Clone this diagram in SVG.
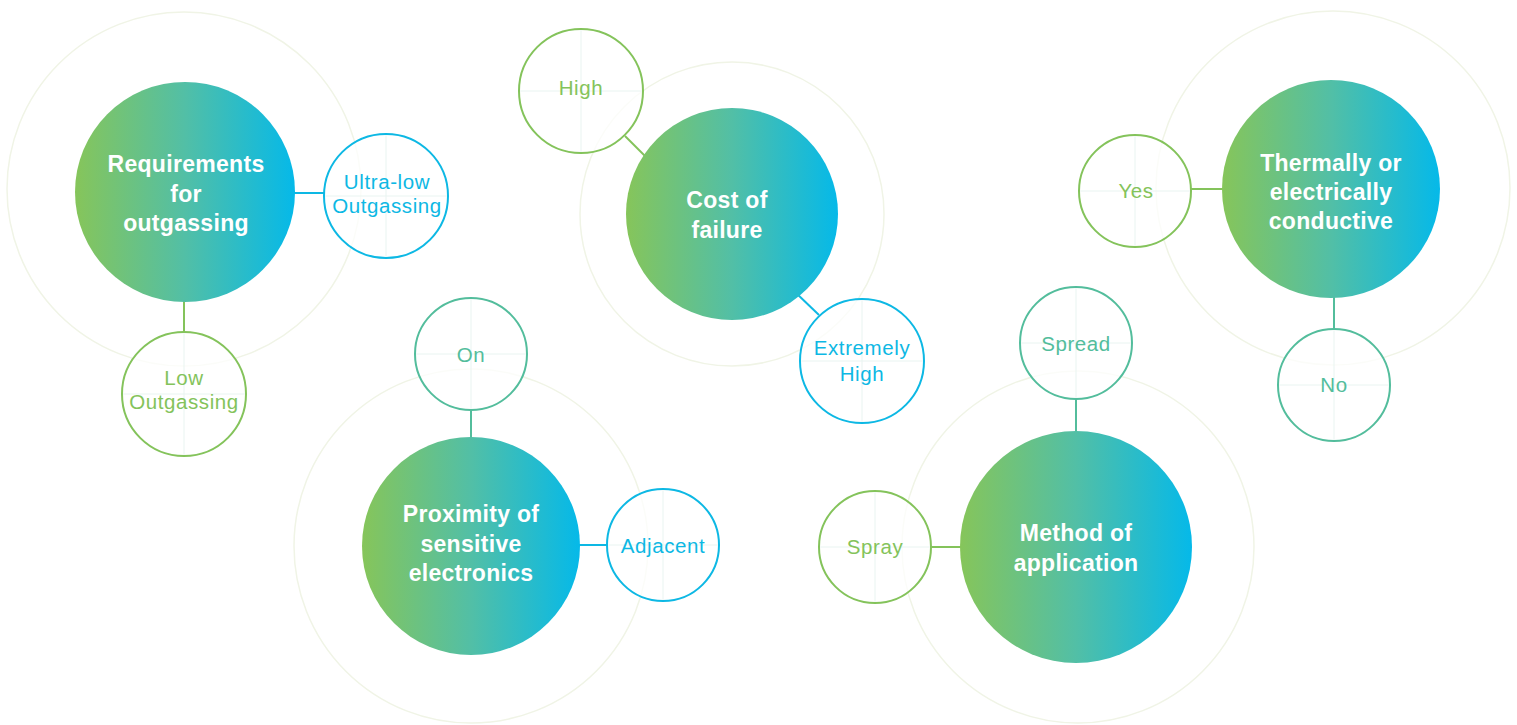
<svg xmlns="http://www.w3.org/2000/svg" width="1517" height="725" viewBox="0 0 1517 725">
<defs>
<linearGradient id="g" x1="0" y1="0" x2="1" y2="0">
<stop offset="0" stop-color="#86c55a"/>
<stop offset="0.5" stop-color="#52bfa6"/>
<stop offset="1" stop-color="#05b9e9"/>
</linearGradient>
<style>
.ring{fill:none;stroke:#f0f4e6;stroke-width:1.5}
.main{fill:url(#g)}
.mt{font-family:"Liberation Sans",Arial,sans-serif;font-weight:bold;font-size:23px;letter-spacing:0.3px;fill:#ffffff;text-anchor:middle}
.st{font-family:"Liberation Sans",Arial,sans-serif;font-size:20.5px;letter-spacing:0.6px;text-anchor:middle}
.opt{fill:#ffffff;fill-opacity:0.75;stroke-width:2}
.xh{stroke:#e9f4f1;stroke-width:1}
.gr{stroke:#84c35b}
.tl{stroke:#53bd9c}
.cy{stroke:#0db8e4}
.tgr{fill:#84c35b}
.ttl{fill:#53bd9c}
.tcy{fill:#0db8e4}
.con{stroke-width:2;fill:none}
</style>
</defs>
<rect width="1517" height="725" fill="#ffffff"/>
<g id="rings">
<circle class="ring" cx="184" cy="189" r="177"/>
<circle class="ring" cx="732" cy="214" r="152"/>
<circle class="ring" cx="1333" cy="188" r="177"/>
<circle class="ring" cx="471" cy="546" r="177"/>
<circle class="ring" cx="1078" cy="547" r="176"/>
</g>
<g id="connectors">
<line class="con cy" x1="294" y1="193" x2="325" y2="193"/>
<line class="con gr" x1="184" y1="300" x2="184" y2="332"/>
<line class="con gr" x1="625" y1="136" x2="650" y2="161"/>
<line class="con cy" x1="795" y1="292" x2="819" y2="315"/>
<line class="con gr" x1="1191" y1="189" x2="1224" y2="189"/>
<line class="con tl" x1="1334" y1="296" x2="1334" y2="330"/>
<line class="con tl" x1="471" y1="409" x2="471" y2="439"/>
<line class="con cy" x1="578" y1="545" x2="608" y2="545"/>
<line class="con tl" x1="1076" y1="398" x2="1076" y2="432"/>
<line class="con gr" x1="930" y1="547" x2="962" y2="547"/>
</g>
<g id="node-outgassing">
<circle class="main" cx="185" cy="192" r="110"/>
<text class="mt" x="186" y="172">Requirements</text>
<text class="mt" x="186" y="202">for</text>
<text class="mt" x="186" y="231">outgassing</text>
</g>
<g id="opt-ultralow">
<circle class="opt cy" cx="386" cy="196" r="62"/>
<line class="xh" x1="386" y1="135" x2="386" y2="257"/><line class="xh" x1="325" y1="196" x2="447" y2="196"/>
<text class="st tcy" x="387" y="189">Ultra-low</text>
<text class="st tcy" x="387" y="213">Outgassing</text>
</g>
<g id="opt-low">
<circle class="opt gr" cx="184" cy="394" r="62"/>
<line class="xh" x1="184" y1="333" x2="184" y2="455"/><line class="xh" x1="123" y1="394" x2="245" y2="394"/>
<text class="st tgr" x="184" y="385">Low</text>
<text class="st tgr" x="184" y="409">Outgassing</text>
</g>
<g id="node-cost">
<circle class="main" cx="732" cy="214" r="106"/>
<text class="mt" x="727" y="208">Cost of</text>
<text class="mt" x="727" y="238">failure</text>
</g>
<g id="opt-high">
<circle class="opt gr" cx="581" cy="91" r="62"/>
<line class="xh" x1="581" y1="30" x2="581" y2="152"/><line class="xh" x1="520" y1="91" x2="642" y2="91"/>
<text class="st tgr" x="581" y="95">High</text>
</g>
<g id="opt-extremely">
<circle class="opt cy" cx="862" cy="361" r="62"/>
<line class="xh" x1="862" y1="300" x2="862" y2="422"/><line class="xh" x1="801" y1="361" x2="923" y2="361"/>
<text class="st tcy" x="862" y="355">Extremely</text>
<text class="st tcy" x="862" y="381">High</text>
</g>
<g id="node-thermal">
<circle class="main" cx="1331" cy="189" r="109"/>
<text class="mt" x="1331" y="171">Thermally or</text>
<text class="mt" x="1331" y="200">electrically</text>
<text class="mt" x="1331" y="229">conductive</text>
</g>
<g id="opt-yes">
<circle class="opt gr" cx="1135" cy="191" r="56"/>
<line class="xh" x1="1135" y1="136" x2="1135" y2="246"/><line class="xh" x1="1080" y1="191" x2="1190" y2="191"/>
<text class="st tgr" x="1136" y="198">Yes</text>
</g>
<g id="opt-no">
<circle class="opt tl" cx="1334" cy="385" r="56"/>
<line class="xh" x1="1334" y1="330" x2="1334" y2="440"/><line class="xh" x1="1279" y1="385" x2="1389" y2="385"/>
<text class="st ttl" x="1334" y="392">No</text>
</g>
<g id="node-proximity">
<circle class="main" cx="471" cy="546" r="109"/>
<text class="mt" x="471" y="522">Proximity of</text>
<text class="mt" x="471" y="552">sensitive</text>
<text class="mt" x="471" y="581">electronics</text>
</g>
<g id="opt-on">
<circle class="opt tl" cx="471" cy="354" r="56"/>
<line class="xh" x1="471" y1="299" x2="471" y2="409"/><line class="xh" x1="416" y1="354" x2="526" y2="354"/>
<text class="st ttl" x="471" y="362">On</text>
</g>
<g id="opt-adjacent">
<circle class="opt cy" cx="663" cy="545" r="56"/>
<line class="xh" x1="663" y1="490" x2="663" y2="600"/><line class="xh" x1="608" y1="545" x2="718" y2="545"/>
<text class="st tcy" x="663" y="553">Adjacent</text>
</g>
<g id="node-method">
<circle class="main" cx="1076" cy="547" r="116"/>
<text class="mt" x="1076" y="541">Method of</text>
<text class="mt" x="1076" y="571">application</text>
</g>
<g id="opt-spread">
<circle class="opt tl" cx="1076" cy="343" r="56"/>
<line class="xh" x1="1076" y1="288" x2="1076" y2="398"/><line class="xh" x1="1021" y1="343" x2="1131" y2="343"/>
<text class="st ttl" x="1076" y="351">Spread</text>
</g>
<g id="opt-spray">
<circle class="opt gr" cx="875" cy="547" r="56"/>
<line class="xh" x1="875" y1="492" x2="875" y2="602"/><line class="xh" x1="820" y1="547" x2="930" y2="547"/>
<text class="st tgr" x="875" y="554">Spray</text>
</g>
</svg>
